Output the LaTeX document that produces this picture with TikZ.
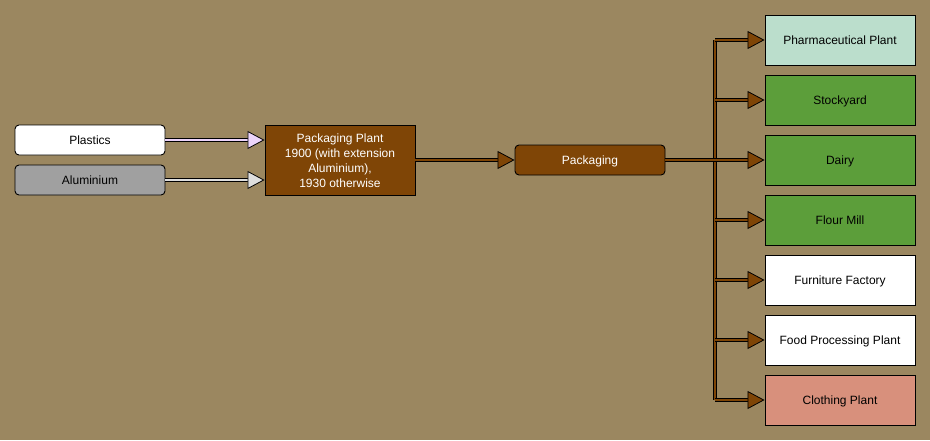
\documentclass[tikz,border=0pt]{standalone}
\usepackage{fontspec}
\setmainfont{Liberation Sans}
\usetikzlibrary{arrows.meta}
\definecolor{bg}{RGB}{155,135,96}
\definecolor{brownbox}{RGB}{127,69,6}
\definecolor{pharma}{RGB}{187,222,204}
\definecolor{greenbox}{RGB}{92,158,58}
\definecolor{clothing}{RGB}{216,144,124}
\definecolor{grayb}{RGB}{160,160,160}
\definecolor{lilac}{RGB}{236,212,250}
\definecolor{lightg}{RGB}{222,222,222}
\tikzset{
  box/.style={draw=black, line width=0.9pt, minimum width=150pt, inner sep=0pt, font=\fontsize{12}{15}\selectfont, text height=9.6pt, text depth=0pt},
  mbox/.style={draw=black, line width=0.9pt, minimum width=150pt, inner sep=0pt, align=center, font=\fontsize{12}{15}\selectfont},
  rbox/.style={box, rounded corners=4pt},
  conn/.style={draw=black, line width=0.8pt, double=#1, double distance=2.2pt,
     -{Triangle[length=17pt,width=18pt,fill=#1,line width=0.8pt]}},
  link/.style={draw=black, line width=0.8pt, double=#1, double distance=2.2pt}
}
\begin{document}
\begin{tikzpicture}[x=1pt,y=-1pt]
\fill[bg] (0,0) rectangle (930,440);
\useasboundingbox (0,0) rectangle (930,440);
\node[rbox, fill=white, minimum height=30pt] (plastics) at (90,140) {Plastics};
\node[rbox, fill=grayb, minimum height=30pt] (alu) at (90,180) {Aluminium};
\node[mbox, fill=brownbox, text=white, minimum height=70pt] (plant) at (340,160) {\rule{0pt}{11pt}Packaging Plant\\1900 (with extension\\Aluminium),\\1930 otherwise};
\node[rbox, fill=brownbox, text=white, minimum height=30pt] (pack) at (590,160) {Packaging};
\node[box, fill=pharma, minimum height=50pt] (d1) at (840,40) {Pharmaceutical Plant};
\node[box, fill=greenbox, minimum height=50pt] (d2) at (840,100) {Stockyard};
\node[box, fill=greenbox, minimum height=50pt] (d3) at (840,160) {Dairy};
\node[box, fill=greenbox, minimum height=50pt] (d4) at (840,220) {Flour Mill};
\node[box, fill=white, minimum height=50pt] (d5) at (840,280) {Furniture Factory};
\node[box, fill=white, minimum height=50pt] (d6) at (840,340) {Food Processing Plant};
\node[box, fill=clothing, minimum height=50pt] (d7) at (840,400) {Clothing Plant};
\coordinate (top) at (715,40);
\coordinate (bot) at (715,400);
\coordinate (mid) at (715,160);
\draw[conn=lilac] (plastics.east) -- (plastics.east -| plant.west);
\draw[conn=lightg] (alu.east) -- (alu.east -| plant.west);
\draw[conn=brownbox] (plant.east |- pack.west) -- (pack.west);
\draw[link=brownbox] (top) -- (bot);
\draw[link=brownbox] (pack.east) -- (mid);
\foreach \i in {1,...,7} {
  \draw[conn=brownbox] (top |- d\i.west) -- (d\i.west);
}
\end{tikzpicture}
\end{document}
